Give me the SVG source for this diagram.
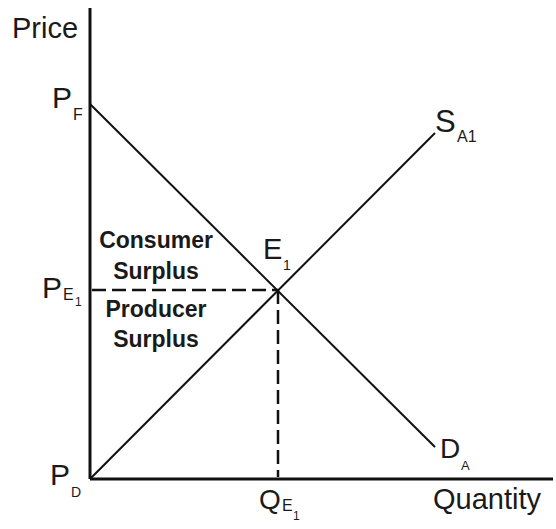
<svg xmlns="http://www.w3.org/2000/svg" width="556" height="529" viewBox="0 0 556 529">
<style>
.t{font-family:"Liberation Sans",Arial,sans-serif;fill:#1a1a1a}
.b{font-family:"Liberation Sans",Arial,sans-serif;font-weight:bold;fill:#1a1a1a;font-size:23px;text-anchor:middle}
.ax{stroke:#111;stroke-width:3;fill:none}
.ln{stroke:#111;stroke-width:2;fill:none}
.da{stroke:#111;stroke-width:2.5;fill:none;stroke-dasharray:14 6}
</style>
<rect width="556" height="529" fill="#fff"/>
<g id="connectors">
<line class="ax" x1="90" y1="8" x2="90" y2="479"/>
<line class="ax" x1="90" y1="479" x2="553" y2="479"/>
<line id="demand" class="ln" x1="90" y1="104" x2="435" y2="447"/>
<line id="supply" class="ln" x1="90" y1="479" x2="435" y2="133"/>
<line class="da" x1="92" y1="290" x2="278" y2="290"/>
<line class="da" x1="278" y1="290" x2="278" y2="477"/>
</g>
<g id="axis-labels">
<text class="t" x="12" y="38" font-size="29">Price</text>
<text class="t" x="433" y="509" font-size="29">Quantity</text>
</g>
<g id="price-labels">
<text class="t" x="52" y="108" font-size="30">P</text>
<text class="t" x="73" y="120" font-size="16">F</text>
<text class="t" x="42" y="298" font-size="30">P</text>
<text class="t" x="63" y="300" font-size="16">E</text>
<text class="t" x="75" y="306" font-size="12">1</text>
<text class="t" x="50" y="485" font-size="30">P</text>
<text class="t" x="71" y="497" font-size="14">D</text>
</g>
<g id="quantity-label">
<text class="t" x="259" y="509" font-size="28">Q</text>
<text class="t" x="282" y="511" font-size="16">E</text>
<text class="t" x="293" y="520" font-size="12">1</text>
</g>
<g id="curve-labels">
<text class="t" x="435" y="132" font-size="31">S</text>
<text class="t" x="457" y="142" font-size="16">A1</text>
<text class="t" x="440" y="458" font-size="28">D</text>
<text class="t" x="461" y="470" font-size="13">A</text>
<text class="t" x="263" y="259" font-size="29">E</text>
<text class="t" x="283" y="270" font-size="14">1</text>
</g>
<g id="consumer-surplus">
<text class="b" x="156" y="248">Consumer</text>
<text class="b" x="156" y="279">Surplus</text>
</g>
<g id="producer-surplus">
<text class="b" x="156" y="317">Producer</text>
<text class="b" x="156" y="347">Surplus</text>
</g>
</svg>
